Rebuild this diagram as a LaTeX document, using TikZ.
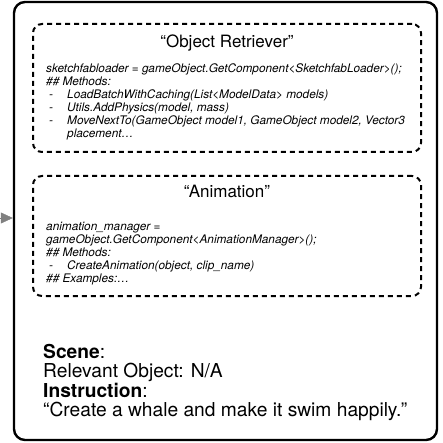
\documentclass[tikz,border=0pt]{standalone}
\usepackage{fontspec}
\setmainfont{TeX Gyre Heros}
\usetikzlibrary{arrows.meta}
\tikzset{
    Outer/.style = {draw,line width=2.4pt,rounded corners=11pt,inner sep=0pt},
    Module/.style = {draw,line width=2pt,dash pattern=on 5pt off 4pt,rounded corners=9pt,inner sep=0pt},
    Title/.style = {font=\fontsize{17}{20}\selectfont,anchor=base,inner sep=0pt},
    Code/.style = {font=\fontsize{11.8}{13}\selectfont\itshape,align=left,anchor=north west,inner sep=0pt},
    Prompt/.style = {font=\fontsize{19.2}{19.5}\selectfont,align=left,anchor=north west,inner sep=0pt}
}
\newcommand{\bul}{\makebox[21pt][l]{\hspace{3pt}-}}

\begin{document}
\begin{tikzpicture}[x=1pt,y=-1pt]
        \useasboundingbox (0,0) rectangle (442,443);
        \node[Outer,minimum width=423pt,minimum height=438pt] (prompt) at (225.5,221) {};
        \node[Module,minimum width=388pt,minimum height=128pt] (retriever) at (227,88) {};
        \node[Module,minimum width=388pt,minimum height=120pt] (animation) at (227,236) {};
        \node[Title] (retrieverTitle) at (227,48) {“Object Retriever”};
        \node[Code] (retrieverCode) at (46,63) {sketchfabloader = gameObject.GetComponent<SketchfabLoader>();\\
            \#\# Methods:\\
            \bul LoadBatchWithCaching(List<ModelData> models)\\
            \bul Utils.AddPhysics(model, mass)\\
            \bul MoveNextTo(GameObject model1, GameObject model2, Vector3\\
            \hspace{21pt}placement\ldots};
        \node[Title] (animationTitle) at (227,198) {“Animation”};
        \node[Code] (animationCode) at (46,221.5) {animation\_manager =\\
            gameObject.GetComponent<AnimationManager>();\\
            \#\# Methods:\\
            \bul CreateAnimation(object, clip\_name)\\
            \#\# Examples:\ldots};
        \node[Prompt] (scene) at (43,344) {\textbf{Scene}:\\
            Relevant Object: N/A\\
            \textbf{Instruction}:\\
            “Create a whale and make it swim happily.”};
        \coordinate (feed) at (-1,218);
        \draw[gray,-{Triangle[length=12pt,width=11pt]}] (feed) -- (feed -| prompt.west);
\end{tikzpicture}
\end{document}
